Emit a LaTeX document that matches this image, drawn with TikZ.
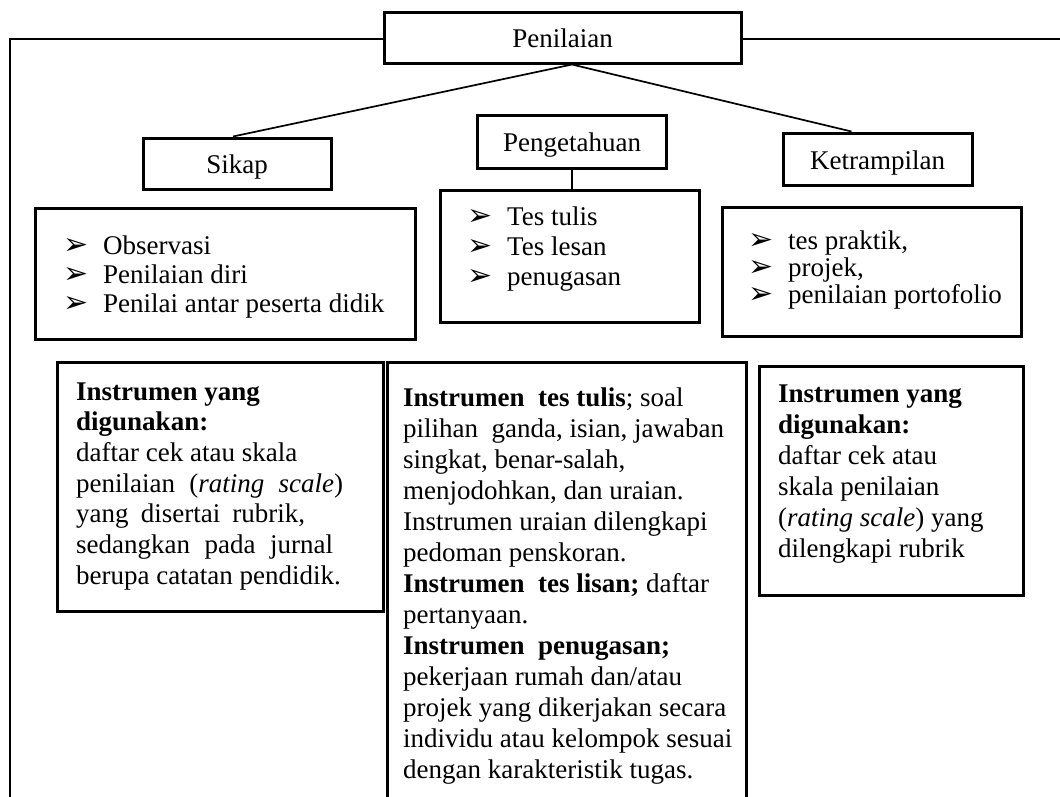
\documentclass[tikz,border=0pt]{standalone}
\usepackage{fontspec}
\setmainfont{Liberation Serif}
\newfontfamily\dingfont{DejaVu Sans}
\usetikzlibrary{calc}

% arrowhead bullet followed by the hanging indent
\newcommand{\bul}{\makebox[40pt][l]{\smash{\dingfont\fontsize{30}{30}\selectfont ➢}}}

\tikzset{
  headbox/.style={draw, line width=3pt, inner sep=0pt, text height=20pt, text depth=0pt,
    font=\fontsize{27}{31}\selectfont},
  framebox/.style={draw, line width=3pt, inner sep=0pt},
  listtext/.style={anchor=base west, align=flush left, inner sep=0pt},
  paratext/.style={anchor=base west, align=flush left, inner sep=0pt},
  branch/.style={line width=1.7pt},
  stem/.style={line width=1.2pt},
  outline/.style={line width=1.4pt},
}

\begin{document}
\begin{tikzpicture}[x=1pt, y=-1pt, font=\fontsize{27}{31}\selectfont]
\clip (0,0) rectangle (1060,796);

% heading boxes
\node[headbox, minimum width=357pt, minimum height=51pt] (penilaian) at (562.5,37.5) {Penilaian};
\node[headbox, minimum width=188pt, minimum height=51pt] (sikap) at (237,163.5) {Sikap};
\node[headbox, minimum width=189pt, minimum height=53pt] (pengetahuan) at (572,141.5) {Pengetahuan};
\node[headbox, minimum width=189pt, minimum height=52pt] (ketrampilan) at (877.5,159) {Ketrampilan};

% boxes with the assessment techniques
\node[framebox, minimum width=380pt, minimum height=131pt] (sikapList) at (225,273.5) {};
\node[framebox, minimum width=259pt, minimum height=132pt] (pengList) at (569.5,256) {};
\node[framebox, minimum width=299pt, minimum height=129pt] (ketrList) at (871.5,271.5) {};

\node[listtext, text width=340pt, font=\fontsize{27}{29}\selectfont] (sikapItems) at (63,254)
  {\bul Observasi\\ \bul Penilaian diri\\ \bul Penilai antar peserta didik};
\node[listtext, text width=220pt, font=\fontsize{27}{30}\selectfont] (pengItems) at (467,225.5)
  {\bul Tes tulis\\ \bul Tes lesan\\ \bul penugasan};
\node[listtext, text width=265pt, font=\fontsize{27}{27}\selectfont] (ketrItems) at (748,249.5)
  {\bul tes praktik,\\ \bul projek,\\ \bul penilaian portofolio};

% boxes with the instruments
\node[framebox, minimum width=326pt, minimum height=249pt] (sikapInst) at (220,486.5) {};
\node[framebox, minimum width=359pt, minimum height=458pt] (pengInst) at (566.5,591) {};
\node[framebox, minimum width=264pt, minimum height=229pt] (ketrInst) at (891,480.5) {};

\node[paratext, text width=290pt, font=\fontsize{27}{30.7}\selectfont] (sikapInstText) at (76,400)
  {\textbf{Instrumen yang}\\
   \textbf{digunakan:}\\
   daftar cek atau skala\\
   \makebox[267pt][s]{penilaian (\textit{rating scale})}\\
   \makebox[229pt][s]{yang disertai rubrik,}\\
   \makebox[257pt][s]{sedangkan pada jurnal}\\
   berupa catatan pendidik.};

\node[paratext, text width=345pt] (pengInstText) at (403,406)
  {\textbf{Instrumen\ \ tes tulis}; soal\\
   pilihan\ \ ganda, isian, jawaban\\
   singkat, benar-salah,\\
   menjodohkan, dan uraian.\\
   Instrumen uraian dilengkapi\\
   pedoman penskoran.\\
   \textbf{Instrumen\ \ tes lisan;} daftar\\
   pertanyaan.\\
   \textbf{Instrumen\ \ penugasan;}\\
   pekerjaan rumah dan/atau\\
   projek yang dikerjakan secara\\
   individu atau kelompok sesuai\\
   dengan karakteristik tugas.};

\node[paratext, text width=240pt] (ketrInstText) at (778,402)
  {\textbf{Instrumen\ yang}\\
   \textbf{digunakan:}\\
   daftar cek atau\\
   skala penilaian\\
   (\textit{rating scale}) yang\\
   dilengkapi rubrik};

% connectors
\coordinate (hub) at (pengetahuan.center |- penilaian.south);
\draw[branch] (hub) -- ($(sikap.north)+(-4,0)$);
\draw[branch] (hub) -- ($(ketrampilan.north)+(-26,0)$);
\draw[stem] (pengetahuan.south) -- (pengetahuan.south |- pengList.north);

% outer frame running from the top box
\coordinate (frameCorner) at (10,39);
\draw[outline] (penilaian.west |- frameCorner) -- (frameCorner) -- (10,820);
\draw[outline] (penilaian.east |- frameCorner) -- (1070,39);
\end{tikzpicture}
\end{document}
